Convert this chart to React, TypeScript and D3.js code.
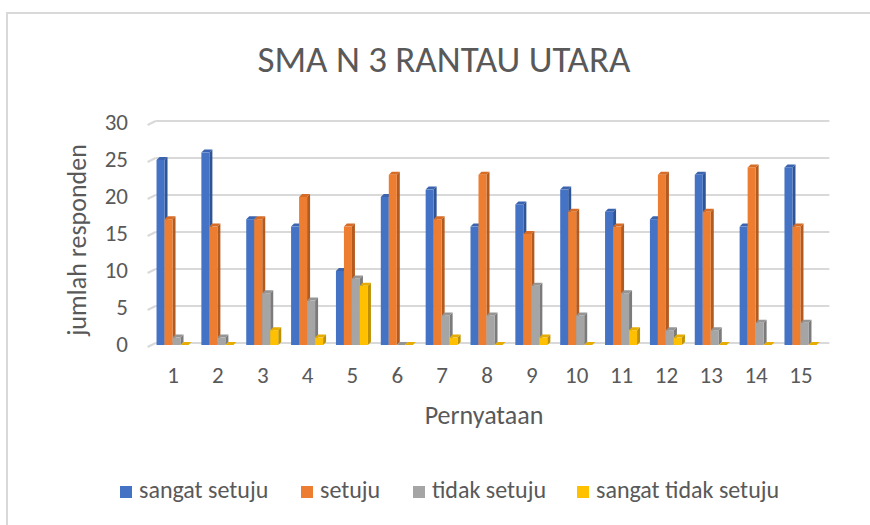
import React from 'react';
import * as d3 from 'd3';

const width = 870, height = 525;

// statements 1..15
const categories = ['1', '2', '3', '4', '5', '6', '7', '8', '9', '10', '11', '12', '13', '14', '15'];
const sangatSetuju = [25, 26, 17, 16, 10, 20, 21, 16, 19, 21, 18, 17, 23, 16, 24];
const setuju = [17, 16, 17, 20, 16, 23, 17, 23, 15, 18, 16, 23, 18, 24, 16];
const tidakSetuju = [1, 1, 7, 6, 9, 0, 4, 4, 8, 4, 7, 2, 2, 3, 3];
const sangatTidakSetuju = [0, 0, 2, 1, 8, 0, 1, 0, 1, 0, 2, 1, 0, 0, 0];
const yTicks = [0, 5, 10, 15, 20, 25, 30];

const seriesNames = ['sangat setuju', 'setuju', 'tidak setuju', 'sangat tidak setuju'];
const seriesValues = [sangatSetuju, setuju, tidakSetuju, sangatTidakSetuju];
// front, side, top
const seriesColors = [
    ['#4472C4', '#2F5597', '#3A64B0'],
    ['#ED7D31', '#B35A1F', '#D66C25'],
    ['#A5A5A5', '#7B7B7B', '#959595'],
    ['#FFC000', '#BF9000', '#E6AC00'],
];

const font = 'Carlito, Calibri, Lato, sans-serif';
const textColor = '#595959';

// plot geometry
const x0 = 150.6, x1 = 823.4;
const base = 345;
const depth = { dx: 3, dy: 3 };       // bar 3d depth
const wall = { dx: 8, dy: 4 };        // offset of back wall gridlines
const barW = 8;

export default function App() {
    // scales
    const xScale = d3.scaleBand().domain(categories).range([x0, x1]);
    const yScale = d3.scaleLinear().domain([0, 30]).range([base, 123]);
    const innerX = d3.scaleBand().domain(seriesNames).range([0, barW * 4]);
    const groupOffset = (xScale.bandwidth() - barW * 4) / 2 - 0.5;

    const bars: JSX.Element[] = [];
    categories.forEach((c, i) => {
        seriesNames.forEach((s, k) => {
            const v = seriesValues[k][i];
            const x = (xScale(c) as number) + groupOffset + (innerX(s) as number);
            const y = yScale(v);
            const [front, side, top] = seriesColors[k];
            const { dx, dy } = depth;
            bars.push(
                <g key={c + s}>
                    <polygon fill={side}
                        points={`${x + barW},${y} ${x + barW + dx},${y - dy} ${x + barW + dx},${base - dy} ${x + barW},${base}`} />
                    <polygon fill={top}
                        points={`${x},${y} ${x + dx},${y - dy} ${x + barW + dx},${y - dy} ${x + barW},${y}`} />
                    {v > 0 && <rect x={x} y={y} width={barW} height={base - y} fill={front} />}
                </g>
            );
        });
    });

    // legend layout
    const legendX = [120, 301, 413, 577];

    return (
        <svg width={width} height={height} viewBox={`0 0 ${width} ${height}`}
            style={{ position: 'absolute', left: 0, top: 0, background: '#fff' }}>
            {/* chart border */}
            <path d={`M7,${height + 5} L7,13 L${width + 5},13`} fill="none" stroke="#D9D9D9" strokeWidth={2} />

            <text x={444} y={72} textAnchor="middle" fontFamily={font} fontSize={37} fill={textColor}>
                SMA N 3 RANTAU UTARA
            </text>

            {/* gridlines on the back wall with slanted ticks */}
            {yTicks.map(t => (
                <g key={t}>
                    <line x1={x0 - 3} x2={x0 - 3 + wall.dx} y1={yScale(t) + 2} y2={yScale(t) + 2 - wall.dy}
                        stroke="#D9D9D9" strokeWidth={2} />
                    <line x1={x0 - 3 + wall.dx} x2={x1 + 6} y1={yScale(t) - 2} y2={yScale(t) - 2}
                        stroke="#D9D9D9" strokeWidth={2} />
                    <text x={128} y={yScale(t) + 2} textAnchor="end" dominantBaseline="middle"
                        fontFamily={font} fontSize={23} fill={textColor}>{t}</text>
                </g>
            ))}

            {bars}

            {categories.map(c => (
                <text key={c} x={(xScale(c) as number) + xScale.bandwidth() / 2} y={378}
                    textAnchor="middle" dominantBaseline="middle" fontFamily={font} fontSize={23} fill={textColor}>
                    {c}
                </text>
            ))}

            <text x={484} y={418} textAnchor="middle" dominantBaseline="middle"
                fontFamily={font} fontSize={26} fill={textColor}>Pernyataan</text>

            <text transform={`translate(80,240) rotate(-90)`} textAnchor="middle" dominantBaseline="middle"
                fontFamily={font} fontSize={26} fill={textColor}>jumlah responden</text>

            {seriesNames.map((s, k) => (
                <g key={s} transform={`translate(${legendX[k]},492)`}>
                    <rect x={0} y={-6} width={12} height={12} fill={seriesColors[k][0]} />
                    <text x={19} y={0} dominantBaseline="middle" fontFamily={font} fontSize={24} fill={textColor}>{s}</text>
                </g>
            ))}
        </svg>
    );
}
